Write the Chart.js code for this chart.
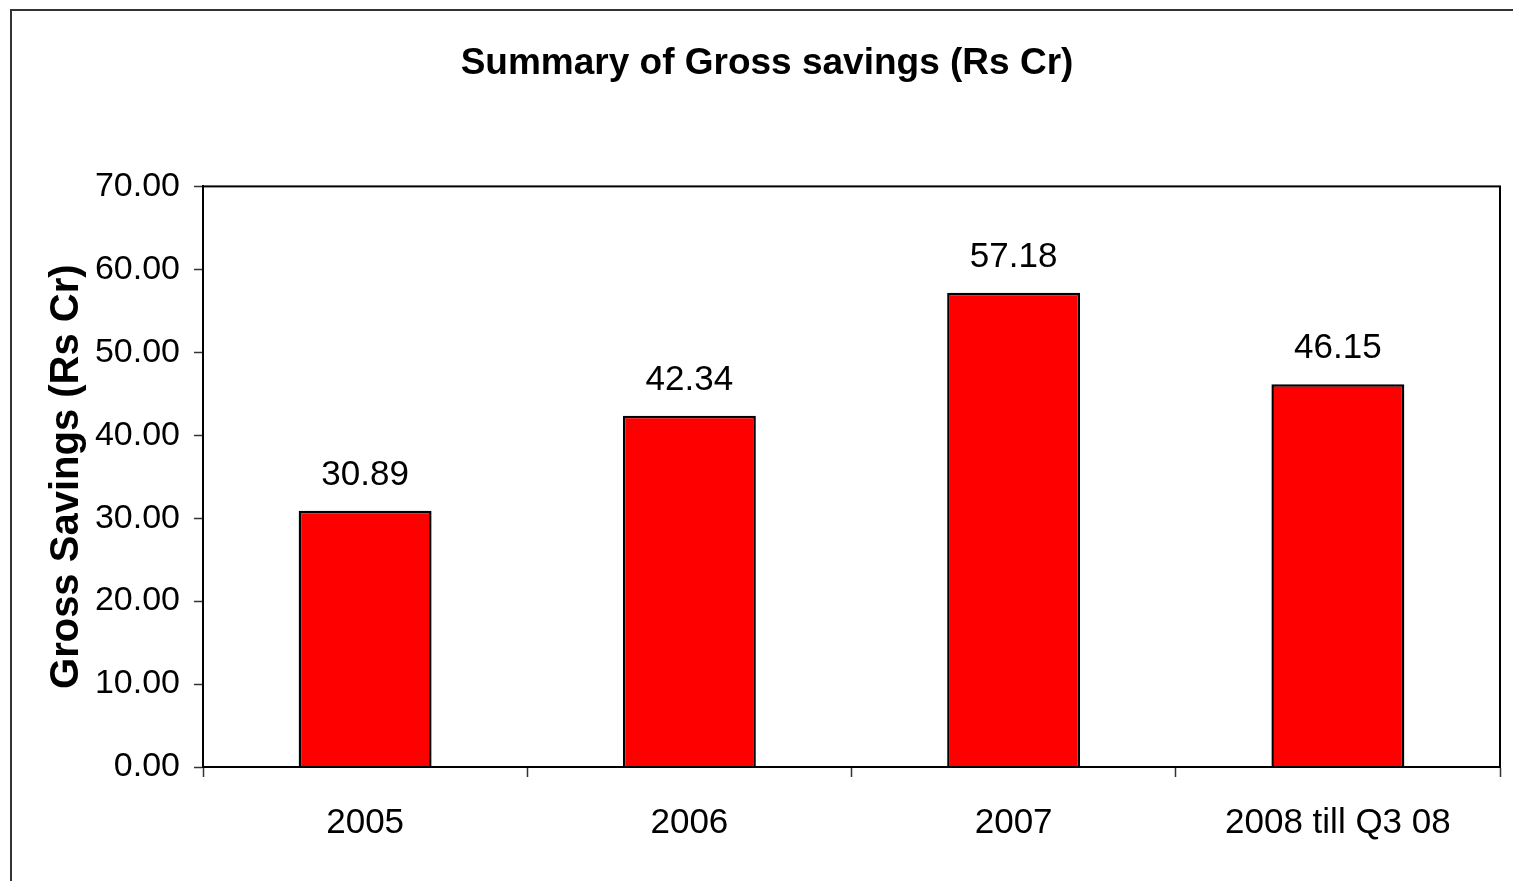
<!DOCTYPE html>
<html>
<head>
<meta charset="utf-8">
<title>Summary of Gross savings</title>
<script src="https://cdn.jsdelivr.net/npm/chart.js@4"></script>
<style>
    html, body { margin: 0; padding: 0; background: #fff; overflow: hidden; }
    #frame {
        position: absolute; left: 10px; top: 9px;
        width: 1700px; height: 1000px;
        border-left: 2px solid #333; border-top: 2px solid #333;
    }
    #wrap { position: absolute; left: 0; top: 0; width: 1513px; height: 881px; }
</style>
</head>
<body>
<div id="frame"></div>
<div id="wrap"><canvas id="myChart"></canvas></div>
<script>
// Gross savings per year, Rs Cr
var years = ['2005', '2006', '2007', '2008 till Q3 08'];
var savings = [30.89, 42.34, 57.18, 46.15];
var yTicks = [0, 10, 20, 30, 40, 50, 60, 70];

var fontFamily = '"Liberation Sans", Arial, sans-serif';

// Box around the plot area
var plotBorder = {
    id: 'plotBorder',
    afterDraw: function(chart) {
        var a = chart.chartArea;
        var ctx = chart.ctx;
        ctx.save();
        ctx.strokeStyle = '#000';
        ctx.lineWidth = 2;
        ctx.strokeRect(a.left, a.top, a.right - a.left, a.bottom - a.top);
        ctx.restore();
    }
};

// Value written above each bar
var barValues = {
    id: 'barValues',
    afterDatasetsDraw: function(chart) {
        var ctx = chart.ctx;
        var meta = chart.getDatasetMeta(0);
        ctx.save();
        ctx.font = '35px ' + fontFamily;
        ctx.fillStyle = '#000';
        ctx.textAlign = 'center';
        ctx.textBaseline = 'alphabetic';
        meta.data.forEach(function(bar, i) {
            ctx.fillText(savings[i].toFixed(2), bar.x, bar.y - 26);
        });
        ctx.restore();
    }
};

var ctx = document.getElementById('myChart').getContext('2d');
var myChart = new Chart(ctx, {
    type: 'bar',
    data: {
        labels: years,
        datasets: [{
            data: savings,
            backgroundColor: '#ff0000',
            borderColor: '#000',
            borderWidth: 2.5,
            barPercentage: 0.41,
            categoryPercentage: 1
        }]
    },
    options: {
        responsive: true,
        maintainAspectRatio: false,
        animation: false,
        layout: { padding: { left: 34, right: 13, top: 0, bottom: 0 } },
        plugins: {
            legend: { display: false },
            tooltip: { enabled: false },
            title: {
                display: true,
                text: 'Summary of Gross savings (Rs Cr)',
                color: '#000',
                font: { family: fontFamily, size: 37, weight: 'bold', lineHeight: 1.2 },
                padding: { top: 42, bottom: 100 }
            }
        },
        scales: {
            x: {
                grid: {
                    offset: true,
                    drawOnChartArea: false,
                    drawTicks: true,
                    tickLength: 10,
                    tickColor: '#333',
                    tickWidth: 1.5
                },
                border: { display: true, color: '#000', width: 2 },
                ticks: {
                    color: '#000',
                    padding: 25,
                    maxRotation: 0,
                    font: { family: fontFamily, size: 35 }
                },
                afterFit: function(scale) { scale.height = 114; }
            },
            y: {
                min: 0,
                max: 70,
                afterBuildTicks: function(scale) {
                    scale.ticks = yTicks.map(function(v) { return { value: v }; });
                },
                grid: {
                    drawOnChartArea: false,
                    drawTicks: true,
                    tickLength: 9,
                    tickColor: '#333',
                    tickWidth: 1.5
                },
                border: { display: true, color: '#000', width: 2 },
                ticks: {
                    color: '#000',
                    padding: 14,
                    font: { family: fontFamily, size: 34 },
                    callback: function(v) { return Number(v).toFixed(2); }
                },
                title: {
                    display: true,
                    text: 'Gross Savings (Rs Cr)',
                    color: '#000',
                    font: { family: fontFamily, size: 40, weight: 'bold', lineHeight: 1.2 },
                    padding: { top: 9, bottom: 0 }
                },
                afterFit: function(scale) { scale.width = 169; }
            }
        }
    },
    plugins: [plotBorder, barValues]
});
</script>
</body>
</html>
